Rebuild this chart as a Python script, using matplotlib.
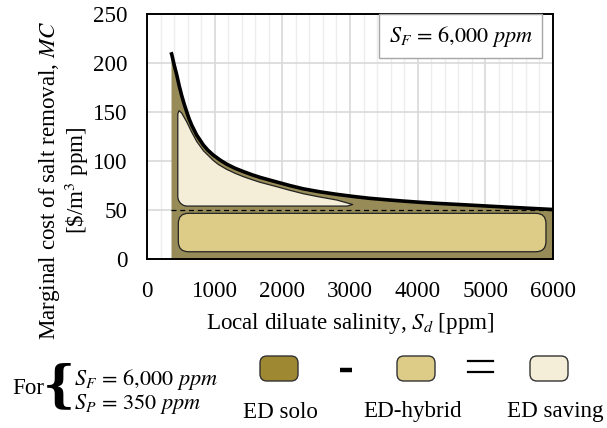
import matplotlib
matplotlib.use("Agg")
import matplotlib.pyplot as plt
import numpy as np
from matplotlib.patches import FancyBboxPatch, Polygon
from matplotlib.ticker import MultipleLocator

plt.rcParams['font.family'] = ['Liberation Serif', 'DejaVu Serif']
plt.rcParams['mathtext.fontset'] = 'stix'

# ---- data ----
S_d = [355, 365, 400, 439, 475, 512, 550, 586, 620, 660, 734, 833, 900, 980,
       1080, 1177, 1300, 1424, 1550, 1670, 1800, 1916, 2113, 2310, 2550, 2803,
       3050, 3295, 3550, 3788, 4030, 4281, 4530, 4773, 5300, 6000]
MC_solo = [211, 209, 198.5, 188, 177, 167, 158, 150.3, 143.5, 136.7, 126.5,
           116.3, 111, 106, 101, 96.8, 92.6, 89.2, 86, 83.3, 80.8, 78.6, 74.9,
           71.6, 68.6, 66, 63.8, 61.9, 60.4, 59.1, 57.9, 56.8, 55.9, 55.0,
           53.0, 50.5]
S_save = [455, 473, 512, 586, 660, 734, 833, 980, 1060, 1177, 1300, 1424,
          1550, 1670, 1916, 2100, 2310, 2550, 2803, 3040]
MC_save_top = [148, 151.3, 149, 140, 129.5, 120, 110.5, 100.5, 96.2, 91.5,
               87.5, 84, 81, 78.3, 73.8, 70.3, 66.6, 63.3, 60.2, 55.6]
MC_save_bottom = 54.0
hybrid_x = [463, 5896]
hybrid_y = [7.4, 46.6]
MC_ref = 50
x_ticks = [0, 1000, 2000, 3000, 4000, 5000, 6000]
y_ticks = [0, 50, 100, 150, 200, 250]

c_solo_fill = '#978B57'
c_solo = '#9F8832'
c_hyb = '#DDCC88'
c_save = '#F4EDD7'

FS = 16.6
W, H = 607, 428
fig = plt.figure(figsize=(W / 100, H / 100), dpi=100)
ax = fig.add_axes([147 / W, 1 - 259 / H, (553 - 147) / W, (259 - 14) / H])
ax.set_xlim(0, 6000)
ax.set_ylim(0, 250)
ax.set_xticks(x_ticks)
ax.set_yticks(y_ticks)
ax.xaxis.set_minor_locator(MultipleLocator(200))
ax.grid(True, which='major', axis='both', color='#D9D9D9', lw=1.2, zorder=0)
ax.grid(True, which='minor', axis='x', color='#EDEDED', lw=1.0, zorder=0)
ax.set_axisbelow(True)
ax.tick_params(which='both', length=0)
ax.tick_params(axis='y', labelsize=FS, pad=14)
ax.tick_params(axis='x', labelsize=FS, pad=16)
for s in ax.spines.values():
    s.set_linewidth(1.4)
    s.set_zorder(10)

# ED solo fill and curve
ax.fill_between(S_d, 0, MC_solo, color=c_solo_fill, lw=0, zorder=2)
ax.plot(S_d, MC_solo, color='black', lw=2.6, zorder=6, solid_capstyle='butt',
        solid_joinstyle='round')
ax.plot([S_d[0], S_d[-1]], [MC_ref, MC_ref], color='black', lw=0.9,
        ls=(0, (4, 3)), zorder=5)

# ED saving shape (rounded bottom-left corner)
rx, ry = 140, 10
theta = np.linspace(np.pi, np.pi * 1.5, 12)
corner_x = S_save[0] + rx + rx * np.cos(theta)
corner_y = MC_save_bottom + ry + ry * np.sin(theta)
poly_x = list(S_save) + [S_save[-1] - 80] + list(corner_x[::-1])
poly_y = list(MC_save_top) + [MC_save_bottom] + list(corner_y[::-1])
ax.add_patch(Polygon(np.column_stack([poly_x, poly_y]), closed=True,
                     facecolor=c_save, edgecolor='#222222', lw=0.9, zorder=4,
                     joinstyle='round'))

# ED hybrid rounded box
ax.add_patch(FancyBboxPatch((hybrid_x[0], hybrid_y[0]),
                            hybrid_x[1] - hybrid_x[0], hybrid_y[1] - hybrid_y[0],
                            boxstyle='round,pad=0,rounding_size=150',
                            mutation_aspect=0.069,
                            facecolor=c_hyb, edgecolor='#222222', lw=0.9, zorder=4))

# S_F box
ax.text(0.773, 0.910, r'$S_F\,=\,6{,}000\ ppm$', transform=ax.transAxes,
        ha='center', va='center', fontsize=16, zorder=12,
        bbox=dict(boxstyle='square,pad=0.42', facecolor='white',
                  edgecolor='#A6A6A6', lw=1.0))

ax.set_xlabel(r'Local diluate salinity, $S_d$ [ppm]', fontsize=FS, labelpad=6)

# y label (two lines)
fig.text(50 / W, 1 - 180 / H, r'Marginal cost of salt removal, $MC$',
         rotation=90, ha='center', va='center', fontsize=FS)
fig.text(77 / W, 1 - 180 / H, r'[\$/m$^3$ ppm]',
         rotation=90, ha='center', va='center', fontsize=FS)

# ---- bottom legend drawn in a pixel-coordinate overlay ----
ov = fig.add_axes([0, 0, 1, 1], zorder=20)
ov.set_xlim(0, W)
ov.set_ylim(H, 0)
ov.axis('off')
ov.patch.set_alpha(0)

ov.text(12, 389, 'For', fontsize=FS, ha='left', va='center')
ov.text(59, 387, '{', fontsize=36, ha='center', va='center',
        family='DejaVu Serif', fontweight='bold')
ov.text(74, 379, r'$S_F\,=\,6{,}000\ ppm$', fontsize=16, ha='left', va='center')
ov.text(74, 404, r'$S_P\,=\,350\ ppm$', fontsize=16, ha='left', va='center')

legend_names = ['ED solo', 'ED-hybrid', 'ED saving']
legend_cols = [c_solo, c_hyb, c_save]
legend_x = [260, 397, 530]
label_x = [280, 413, 555]
for name, col, x0, lx in zip(legend_names, legend_cols, legend_x, label_x):
    ov.add_patch(FancyBboxPatch((x0, 356), 38, 25,
                                boxstyle='round,pad=0,rounding_size=7',
                                facecolor=col, edgecolor='#333333', lw=1.0))
    ov.text(lx, 412, name, fontsize=FS, ha='center', va='center')
ov.plot([340, 352], [370, 370], color='black', lw=3.2, solid_capstyle='butt')
ov.plot([468, 493], [361, 361], color='black', lw=1.6)
ov.plot([468, 493], [372, 372], color='black', lw=1.6)

fig.savefig('out.png', dpi=100)
